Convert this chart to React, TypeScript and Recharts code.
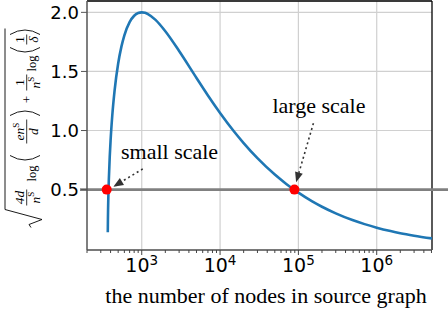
import {
  CartesianGrid,
  Label,
  Line,
  LineChart,
  ReferenceDot,
  ReferenceLine,
  XAxis,
  YAxis,
} from "recharts";

// number of nodes in source graph (x) and the bound value (y)
const nodes = [
  368.6, 370, 372, 375, 380, 390, 400, 420, 450, 500, 550, 600, 700, 800, 900,
  1000, 1100, 1200, 1500, 2000, 3000, 5000, 7000, 10000, 15000, 20000, 30000,
  50000, 70000, 100000, 150000, 200000, 300000, 500000, 700000, 1000000,
  1500000, 2000000, 3000000, 5080000,
];
const bound = [
  0.14, 0.249, 0.346, 0.453, 0.584, 0.774, 0.915, 1.123, 1.338, 1.567, 1.71,
  1.806, 1.917, 1.971, 1.994, 2.0, 1.996, 1.985, 1.936, 1.84, 1.673, 1.445,
  1.297, 1.149, 0.994, 0.894, 0.766, 0.627, 0.548, 0.474, 0.4, 0.355, 0.299,
  0.24, 0.208, 0.178, 0.149, 0.131, 0.11, 0.087,
];

const majorTicks = [1000, 10000, 100000, 1000000];
const minorTicks = [
  200, 300, 400, 500, 600, 700, 800, 900, 2000, 3000, 4000, 5000, 6000, 7000,
  8000, 9000, 20000, 30000, 40000, 50000, 60000, 70000, 80000, 90000, 200000,
  300000, 400000, 500000, 600000, 700000, 800000, 900000, 2000000, 3000000,
  4000000, 5000000,
];
const yTicks = [0.5, 1.0, 1.5, 2.0];

const threshold = 0.5;
const smallPoint = { n: 357, y: 0.5 };
const largePoint = { n: 89000, y: 0.5 };

const xDomain = [200, 5080000];
const yDomain = [-0.011, 2.096];

const data = nodes.map((n, i) => ({ n, bound: bound[i] }));

const SANS = "DejaVu Sans";
const SERIF = "Liberation Serif";

function LogTick(props: any) {
  const { x, y, payload } = props;
  const v = payload.value;
  const exp = Math.round(Math.log10(v));
  const major = Math.abs(Math.log10(v) - exp) < 1e-9;
  return (
    <g>
      <line x1={x} x2={x} y1={y} y2={y + (major ? 5 : 3)} stroke="#444" strokeWidth={1} />
      {major && (
        <text x={x} y={y + 22} textAnchor="middle" fontFamily={SANS} fontSize={19} fill="#000">
          10
          <tspan dy={-7} fontSize={13.5}>
            {exp}
          </tspan>
        </text>
      )}
    </g>
  );
}

// rotated y label: sqrt(4d/n^S log(en^S/d) + 1/n^S log(1/delta))
function Formula({ cx, cy }: { cx: number; cy: number }) {
  const it = { fontFamily: SERIF, fontStyle: "italic", fontSize: 13.5, textAnchor: "middle" as const };
  const rm = { fontFamily: SERIF, fontSize: 12.5, textAnchor: "middle" as const };
  const bar = (a: number, b: number) => (
    <line x1={a} x2={b} y1={2.7} y2={2.7} stroke="#000" strokeWidth={0.8} />
  );
  const nS = (x: number) => (
    <text x={x} y={15.5} {...it}>
      n<tspan dy={-5.5} fontSize={9} fontStyle="normal">S</tspan>
    </text>
  );
  const paren = (x: number, open: boolean) => (
    <path
      d={`M${x},-14 Q${open ? x - 9 : x + 9},1 ${x},16`}
      fill="none"
      stroke="#000"
      strokeWidth={0.9}
    />
  );
  return (
    <g transform={`translate(${cx},${cy}) rotate(-90)`} fill="#000">
      <path d="M-101,7 L-98,5 L-93,18 L-83,-19 L98,-19" fill="none" stroke="#000" strokeWidth={0.9} />
      <text x={-71} y={0} {...it}>4d</text>
      {bar(-79, -63)}
      {nS(-71)}
      <text x={-47} y={12} {...rm}>log</text>
      {paren(-29, true)}
      <text x={-5} y={0} {...it}>
        en<tspan dy={-5} fontSize={9} fontStyle="normal">S</tspan>
      </text>
      {bar(-17, 7)}
      <text x={-5} y={14} {...it}>d</text>
      {paren(11, false)}
      <text x={27} y={7} fontFamily={SERIF} fontSize={13} textAnchor="middle">+</text>
      <text x={44} y={0} {...it} fontStyle="normal">1</text>
      {bar(36, 52)}
      {nS(44)}
      <text x={63} y={12} {...rm}>log</text>
      {paren(79, true)}
      <text x={87} y={0} {...it} fontStyle="normal">1</text>
      {bar(82, 92)}
      <text x={87} y={14} {...it}>δ</text>
      {paren(92, false)}
    </g>
  );
}

const arrowShape = (p: any) => {
  const { x1, y1, x2, y2 } = p;
  const dx = x2 - x1;
  const dy = y2 - y1;
  const len = Math.hypot(dx, dy) || 1;
  const ux = dx / len;
  const uy = dy / len;
  const hl = 10;
  const hw = 4;
  const bx = x2 - ux * hl;
  const by = y2 - uy * hl;
  return (
    <g>
      <line x1={x1} y1={y1} x2={bx} y2={by} stroke="#333" strokeWidth={1.6} strokeDasharray="2 3" />
      <polygon
        points={`${x2},${y2} ${bx - uy * hw},${by + ux * hw} ${bx + uy * hw},${by - ux * hw}`}
        fill="#333"
      />
    </g>
  );
};

const wideLine = (p: any) => (
  <line x1={p.x1 - 7} y1={p.y1} x2={p.x2 + 16} y2={p.y2} stroke="#808080" strokeWidth={2.6} />
);

const annotation = (text: string) => (p: any) => (
  <text x={p.cx} y={p.cy} textAnchor="middle" fontFamily={SERIF} fontSize={22} fill="#000">
    {text}
  </text>
);

export default function App() {
  return (
    <div style={{ width: 448, height: 318 }}>
      <style>{"body{margin:0}"}</style>
      <LineChart
        width={448}
        height={318}
        data={data}
        margin={{ top: 1, right: 16, bottom: 0, left: 0 }}
      >
        <CartesianGrid vertical={false} stroke="#d0d0d0" strokeWidth={1.2} />
        {majorTicks.map((t) => (
          <ReferenceLine key={t} x={t} stroke="#d0d0d0" strokeWidth={1.2} />
        ))}
        <XAxis
          dataKey="n"
          type="number"
          scale="log"
          domain={xDomain}
          allowDataOverflow
          ticks={[...minorTicks, ...majorTicks].sort((a, b) => a - b)}
          interval={0}
          tick={<LogTick />}
          tickLine={false}
          tickSize={0}
          tickMargin={0}
          height={68}
          axisLine={{ stroke: "#555", strokeWidth: 1.5 }}
        >
          <Label
            content={(p: any) => (
              <text
                x={p.viewBox.x + p.viewBox.width / 2 + 6.5}
                y={303}
                textAnchor="middle"
                fontFamily={SERIF}
                fontSize={22}
                fill="#000"
              >
                the number of nodes in source graph
              </text>
            )}
          />
        </XAxis>
        <YAxis
          type="number"
          domain={yDomain}
          allowDataOverflow
          ticks={yTicks}
          tickFormatter={(v: number) => v.toFixed(1)}
          width={87}
          tickSize={6}
          tickMargin={2}
          tick={{ fill: "#000", fontSize: 18, fontFamily: SANS }}
          tickLine={{ stroke: "#555" }}
          axisLine={{ stroke: "#555", strokeWidth: 1.5 }}
        >
          <Label
            content={(p: any) => (
              <Formula cx={p.viewBox.x + 24} cy={p.viewBox.y + p.viewBox.height / 2 + 1} />
            )}
          />
        </YAxis>
        <ReferenceLine y={yDomain[1]} stroke="#000" strokeWidth={1.3} />
        <ReferenceLine x={xDomain[1]} stroke="#000" strokeWidth={1.3} />
        <Line
          type="monotone"
          dataKey="bound"
          stroke="#1f77b4"
          strokeWidth={2.6}
          dot={false}
          isAnimationActive={false}
        />
        <ReferenceLine y={threshold} shape={wideLine} />
        <ReferenceLine
          segment={[
            { x: 1030, y: 0.675 },
            { x: 434, y: 0.525 },
          ]}
          shape={arrowShape}
        />
        <ReferenceLine
          segment={[
            { x: 155600, y: 1.062 },
            { x: 93500, y: 0.562 },
          ]}
          shape={arrowShape}
        />
        <ReferenceDot x={2265} y={0.76} r={0} shape={annotation("small scale")} />
        <ReferenceDot x={183000} y={1.147} r={0} shape={annotation("large scale")} />
        <ReferenceDot x={smallPoint.n} y={smallPoint.y} r={5} fill="#ff0000" stroke="none" />
        <ReferenceDot x={largePoint.n} y={largePoint.y} r={5} fill="#ff0000" stroke="none" />
      </LineChart>
    </div>
  );
}
